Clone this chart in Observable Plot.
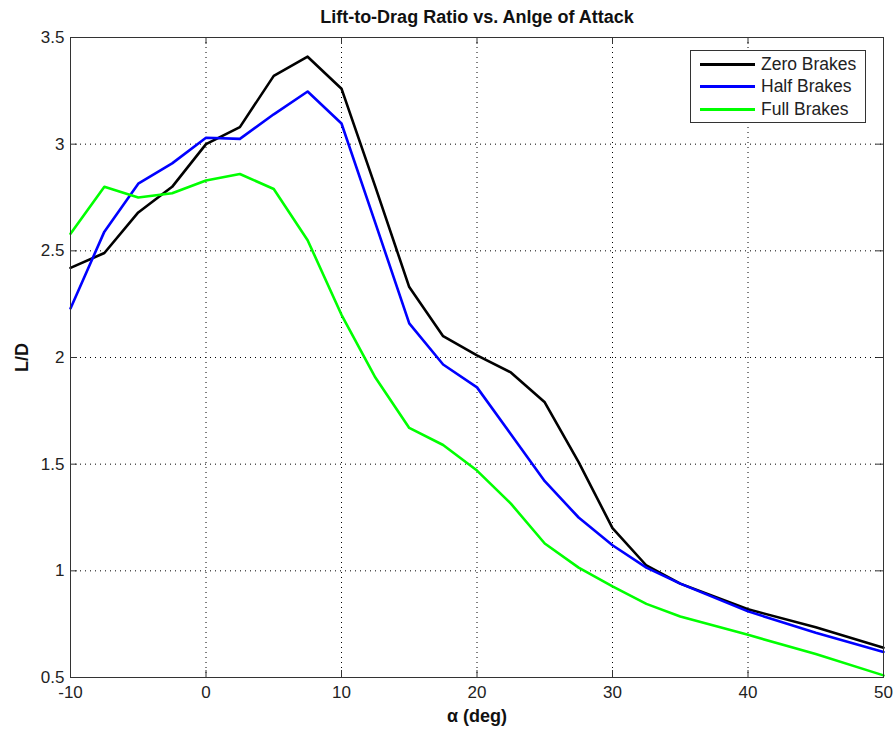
<!DOCTYPE html>
<html>
<head>
<meta charset="utf-8">
<script src="https://cdn.jsdelivr.net/npm/d3@7"></script>
<script src="https://cdn.jsdelivr.net/npm/@observablehq/plot@0.6"></script>
<style>
  body { margin: 0; background: #fff; }
  #wrap { position: relative; width: 893px; height: 730px; font-family: "Liberation Sans", Arial, sans-serif; }
  #legend { position: absolute; left: 690px; top: 50px; width: 176px; height: 73px; border: 1px solid #333; background: #fff; box-sizing: border-box; font-size: 17.5px; color: #222; }
  .row { position: absolute; left: 0; height: 22px; display: flex; align-items: center; }
  .sw { width: 55px; height: 3px; margin-left: 9px; margin-right: 6px; }
</style>
</head>
<body>
<div id="wrap"></div>
<script>
const alpha = [-10, -7.5, -5, -2.5, 0, 2.5, 5, 7.5, 10, 12.5, 15, 17.5, 20, 22.5, 25, 27.5, 30, 32.5, 35, 40, 45, 50];
const zeroBrakes = [2.42, 2.49, 2.68, 2.80, 3.00, 3.08, 3.32, 3.41, 3.26, 2.80, 2.33, 2.10, 2.01, 1.93, 1.79, 1.51, 1.20, 1.025, 0.94, 0.82, 0.735, 0.64];
const halfBrakes = [2.23, 2.59, 2.815, 2.91, 3.03, 3.025, 3.14, 3.247, 3.097, 2.63, 2.16, 1.967, 1.86, 1.64, 1.42, 1.25, 1.12, 1.015, 0.94, 0.81, 0.71, 0.62];
const fullBrakes = [2.58, 2.80, 2.75, 2.77, 2.83, 2.86, 2.79, 2.55, 2.20, 1.906, 1.67, 1.59, 1.47, 1.315, 1.128, 1.015, 0.927, 0.845, 0.786, 0.70, 0.61, 0.51];
const seriesNames = ["Zero Brakes", "Half Brakes", "Full Brakes"];
const seriesColors = ["#000000", "#0000ff", "#00ff00"];
const xTicks = [-10, 0, 10, 20, 30, 40, 50];
const yTicks = [0.5, 1, 1.5, 2, 2.5, 3, 3.5];

const seriesValues = [zeroBrakes, halfBrakes, fullBrakes];
const data = seriesNames.flatMap((name, i) => alpha.map((a, j) => ({series: name, alpha: a, ld: seriesValues[i][j]})));

const W = 893, H = 730, mL = 70, mR = 10, mT = 37, mB = 53;
const pw = W - mL - mR, ph = H - mT - mB;
const font = "'Liberation Sans', Arial, sans-serif";
const grid = {stroke: "#000", strokeOpacity: 1, strokeWidth: 1, strokeDasharray: "1,4"};

const plot = Plot.plot({
  width: W, height: H,
  marginLeft: mL, marginRight: mR, marginTop: mT, marginBottom: mB,
  style: {fontFamily: font, fontSize: "17px", color: "#222", background: "#fff"},
  x: {domain: [-10, 50], ticks: xTicks},
  y: {domain: [0.5, 3.5], ticks: yTicks},
  color: {domain: seriesNames, range: seriesColors},
  marks: [
    Plot.gridX(xTicks, grid),
    Plot.gridY(yTicks, grid),
    Plot.tickX(xTicks, {x: d => d, stroke: "#333", insetTop: ph - 7}),
    Plot.tickX(xTicks, {x: d => d, stroke: "#333", insetBottom: ph - 7}),
    Plot.tickY(yTicks, {y: d => d, stroke: "#333", insetRight: pw - 7}),
    Plot.tickY(yTicks, {y: d => d, stroke: "#333", insetLeft: pw - 7}),
    Plot.axisX(xTicks, {tickSize: 0, tickPadding: 8, label: null, fontSize: 17, tickFormat: d => String(d)}),
    Plot.axisY(yTicks, {tickSize: 0, tickPadding: 6, label: null, fontSize: 17, tickFormat: d => String(d)}),
    Plot.line(data, {x: "alpha", y: "ld", z: "series", stroke: "series", strokeWidth: 2.6, strokeLinejoin: "round"}),
    Plot.frame({stroke: "#333", strokeWidth: 1}),
    Plot.text(["Lift-to-Drag Ratio vs. Anlge of Attack"], {frameAnchor: "top", lineAnchor: "middle", dy: -20, fontWeight: "bold", fontSize: 18, fill: "#111"}),
    Plot.text(["α (deg)"], {frameAnchor: "bottom", lineAnchor: "middle", dy: 39, fontWeight: "bold", fontSize: 18, fill: "#111"}),
    Plot.text(["L/D"], {frameAnchor: "left", textAnchor: "middle", lineAnchor: "middle", dx: -48, rotate: -90, fontWeight: "bold", fontSize: 18, fill: "#111"})
  ]
});

const wrap = document.getElementById("wrap");
wrap.appendChild(plot);
const legend = document.createElement("div");
legend.id = "legend";
seriesNames.forEach((name, i) => {
  const row = document.createElement("div");
  row.className = "row";
  row.style.top = (2 + i * 22.5) + "px";
  const sw = document.createElement("div");
  sw.className = "sw";
  sw.style.background = seriesColors[i];
  const t = document.createElement("span");
  t.textContent = name;
  row.appendChild(sw); row.appendChild(t);
  legend.appendChild(row);
});
wrap.appendChild(legend);
</script>
</body>
</html>
